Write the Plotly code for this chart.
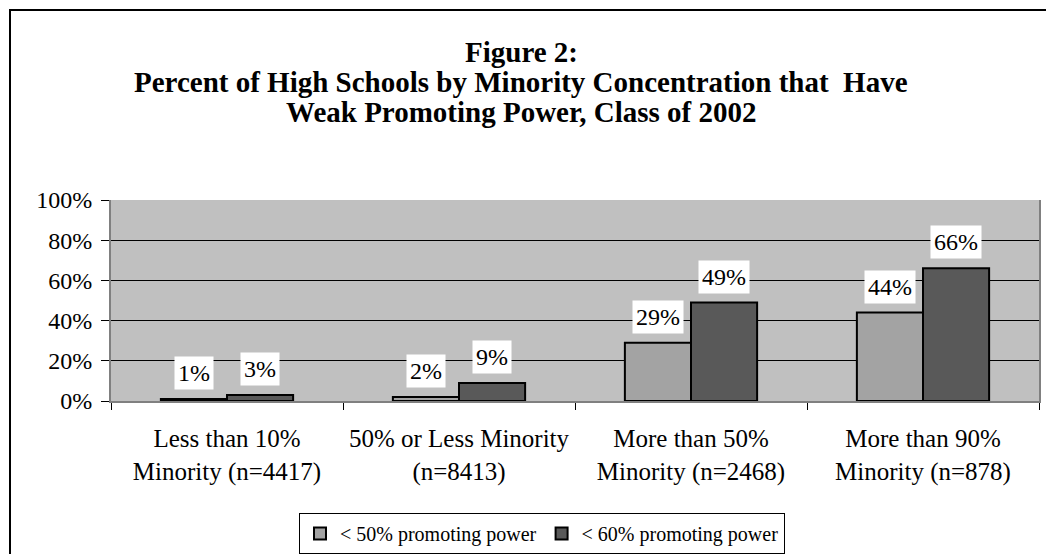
import plotly.graph_objects as go

categories = ["Less than 10%<br>Minority (n=4417)", "50% or Less Minority<br>(n=8413)",
              "More than 50%<br>Minority (n=2468)", "More than 90%<br>Minority (n=878)"]
series_names = ["< 50% promoting power", "< 60% promoting power"]
values_50 = [1, 2, 29, 44]
values_60 = [3, 9, 49, 66]
y_ticks = [0, 20, 40, 60, 80, 100]
y_tick_labels = ["0%", "20%", "40%", "60%", "80%", "100%"]
title_lines = ["Figure 2:",
               "Percent of High Schools by Minority Concentration that&nbsp; Have",
               "Weak Promoting Power, Class of 2002"]

FONT = "Liberation Serif, Times New Roman, serif"
W, H = 1046, 554
L, R, T, B = 111, 7, 200, 153
BARGAP = 0.43
plot_w = W - L - R
plot_h = H - T - B


def px_x(x):
    return (x - L) / plot_w


def px_y(y):
    return (H - B - y) / plot_h


fig = go.Figure()
colors = ["#A3A3A3", "#595959"]
for name, vals, col in zip(series_names, [values_50, values_60], colors):
    fig.add_trace(go.Bar(x=categories, y=vals, name=name,
                         marker=dict(color=col, line=dict(color="black", width=2))))

bar_px = plot_w / len(categories) * (1 - BARGAP) / 2
annotations = []
for vals, sign in [(values_50, -1), (values_60, 1)]:
    for c, v in zip(categories, vals):
        annotations.append(dict(x=c, y=v, xref="x", yref="y", text=f"{v}%",
                                showarrow=False, xshift=sign * bar_px / 2, yshift=9,
                                yanchor="bottom", bgcolor="white", borderpad=3,
                                font=dict(family=FONT, size=24, color="black")))

for line, yc in zip(title_lines, [52, 82, 112]):
    annotations.append(dict(x=px_x(521), y=px_y(yc), xref="paper", yref="paper",
                            text=line, showarrow=False, xanchor="center", yanchor="middle",
                            font=dict(family=FONT, size=29, color="black", weight="bold")))

fig.update_layout(
    width=W, height=H,
    margin=dict(l=L, r=R, t=T, b=B, autoexpand=False),
    paper_bgcolor="white", plot_bgcolor="#C0C0C0",
    barmode="group", bargap=BARGAP, bargroupgap=0,
    font=dict(family=FONT, size=24, color="black"),
    xaxis=dict(showline=True, linecolor="#808080", linewidth=2,
               ticks="outside", tickson="boundaries", ticklen=7, tickcolor="black",
               ticklabelstandoff=14, tickfont=dict(size=25)),
    yaxis=dict(range=[0, 100], tickvals=y_ticks, ticktext=y_tick_labels,
               showgrid=True, gridcolor="black", gridwidth=1, zeroline=False,
               showline=True, linecolor="#808080", linewidth=2, mirror=True,
               ticks="outside", ticklen=8, tickcolor="black",
               ticklabelstandoff=4, tickfont=dict(size=24)),
    legend=dict(orientation="h", x=px_x(542), xanchor="center", y=px_y(513),
                yanchor="top", bordercolor="black", borderwidth=1, bgcolor="white",
                font=dict(size=20), itemwidth=30, traceorder="normal"),
    annotations=annotations,
    showlegend=True,
)

fig.add_shape(type="rect", xref="paper", yref="paper",
              x0=px_x(10), y0=px_y(10), x1=1.2, y1=-1.5,
              line=dict(color="black", width=2), fillcolor="rgba(0,0,0,0)",
              layer="above")

fig.write_html("out.html", config={"displayModeBar": False},
               post_script="document.body.style.margin='0';document.body.style.overflow='hidden';")
